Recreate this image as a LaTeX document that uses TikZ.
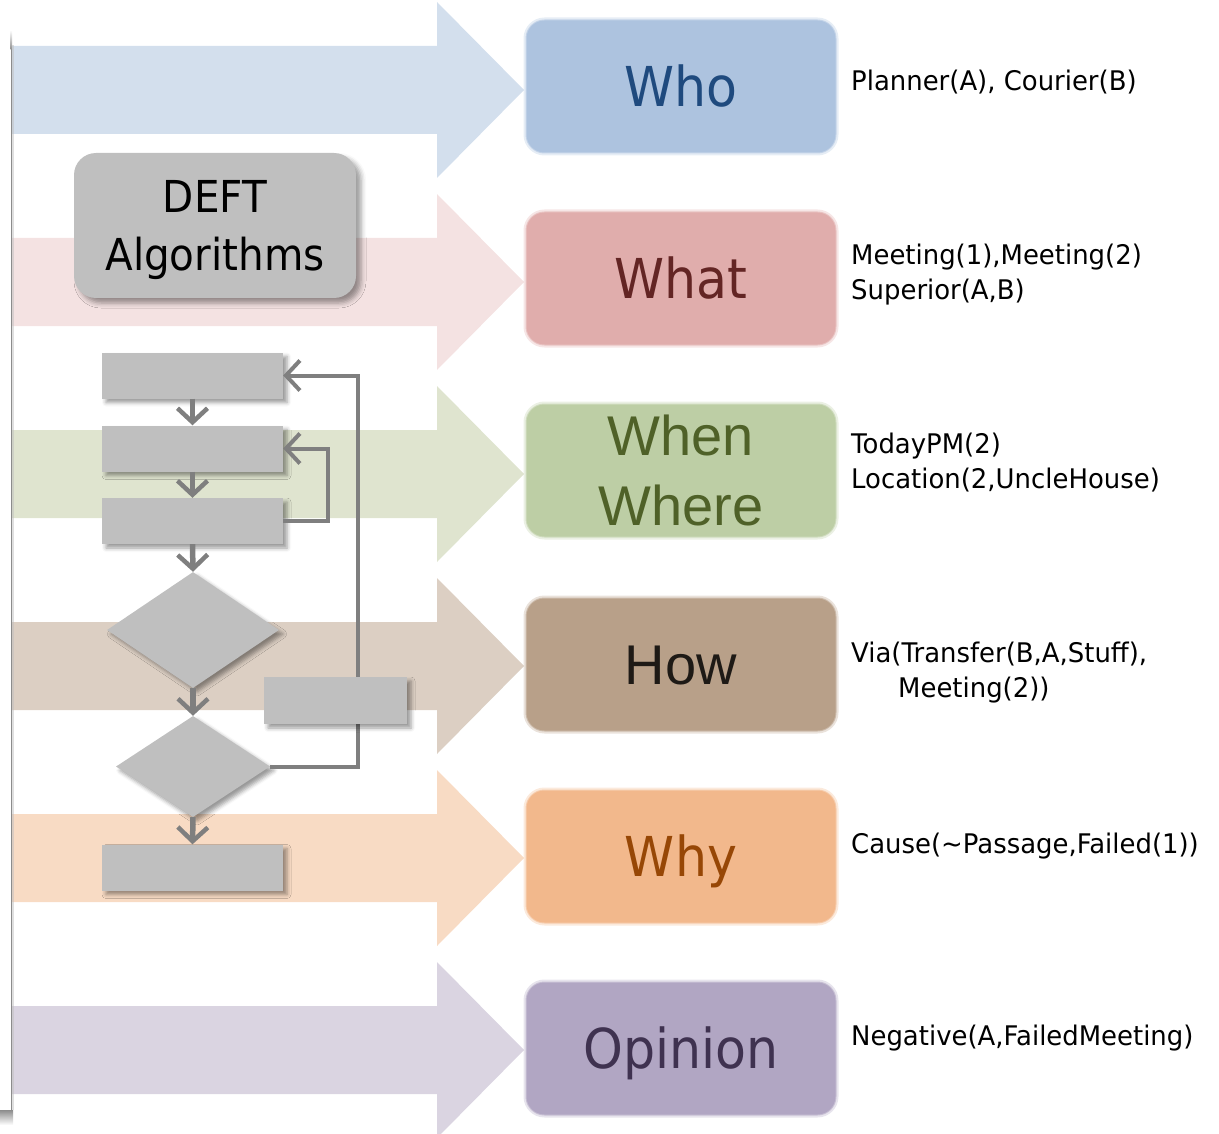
\documentclass[tikz,border=0pt]{standalone}
\usepackage{fontspec}
\setmainfont{DejaVu Sans}[FakeStretch=0.92]
\newfontfamily\rtfont{DejaVu Sans}[FakeStretch=0.96]
\newfontfamily\arialf{Liberation Sans}
\usetikzlibrary{shapes.geometric,arrows.meta,shadows.blur}
\definecolor{bWho}{HTML}{D3DFED}
\definecolor{bWhat}{HTML}{F4E2E2}
\definecolor{bWhen}{HTML}{DFE4CF}
\definecolor{bHow}{HTML}{DCCFC3}
\definecolor{bWhy}{HTML}{F8DBC4}
\definecolor{bOp}{HTML}{DAD4E1}
\definecolor{cWho}{HTML}{ADC3DF}
\definecolor{cWhat}{HTML}{E0ADAC}
\definecolor{cWhen}{HTML}{BDCEA5}
\definecolor{cHow}{HTML}{B8A089}
\definecolor{cWhy}{HTML}{F2B88C}
\definecolor{cOp}{HTML}{B1A6C3}
\definecolor{tWho}{HTML}{1F4A7E}
\definecolor{tWhat}{HTML}{632524}
\definecolor{tWhen}{HTML}{4F6128}
\definecolor{tHow}{HTML}{1E1A16}
\definecolor{tWhy}{HTML}{974706}
\definecolor{tOp}{HTML}{3F3250}
\definecolor{fGray}{HTML}{BFBFBF}
\definecolor{lGray}{HTML}{7F7F7F}
\begin{document}
\begin{tikzpicture}[x=1pt,y=-1pt,
  box/.style={rectangle, rounded corners=18pt, minimum width=309pt, minimum height=132pt,
    inner sep=0pt, fill=#1, draw=#1, line width=2pt, draw opacity=0.6,
    preaction={draw=#1, line width=6pt, draw opacity=0.3}},
  capt/.style={text height=40pt, text depth=0pt},
  big/.style={font=\fontsize{55}{66}\selectfont},
  rt/.style={anchor=base west, inner sep=0pt, font=\rtfont\fontsize{27}{35}\selectfont},
  fshadow/.style={blur shadow={shadow xshift=4pt, shadow yshift=-4pt, shadow blur radius=4pt}},
  fbox/.style={rectangle, fill=fGray, minimum width=181pt, minimum height=46pt, inner sep=0pt, fshadow},
  fdia/.style={diamond, fill=fGray, inner sep=0pt, fshadow},
  conn/.style={draw=lGray, line width=5.5pt, -{Straight Barb[length=14pt, width=30pt, line width=4.5pt]}},
  loopc/.style={draw=lGray, line width=4pt, -{Straight Barb[length=14pt, width=30pt, line width=4pt]}}
]
\useasboundingbox (0,0) rectangle (1219,1134);
% bands (arrows)
\foreach \c/\col in {90/bWho, 282/bWhat, 474/bWhen, 666/bHow, 858/bWhy, 1050/bOp}{
  \fill[\col] (11,\c-44) -- (437,\c-44) -- (437,\c-88) -- (524,\c) -- (437,\c+88) -- (437,\c+44) -- (11,\c+44) -- cycle;
}
% left page edge
\shade[top color=white, bottom color=black!45] (10.5,30) rectangle (12,50);
\fill[black!45] (10.5,50) rectangle (12,1110);
\fill[black!25, opacity=0.5] (12,45) rectangle (14,1110);
\shade[top color=black!45, bottom color=white] (0,1110) rectangle (13,1125);
% category boxes
\node[box=cWho, capt, big, text=tWho] (who) at (681,86.5) {Who};
\node[box=cWhat, capt, big, text=tWhat] (what) at (681,278.5) {What};
\node[box=cWhen, text=tWhen, align=center, text depth=0pt,
  font=\arialf\fontsize{56}{70}\selectfont] (when) at (681,470.5) {When\\Where};
\node[box=cHow, capt, text=tHow, font=\arialf\fontsize{56}{66}\selectfont] (how) at (681,664.5) {How};
\node[box=cWhy, capt, big, text=tWhy] (why) at (681,856.5) {Why};
\node[box=cOp, capt, big, text=tOp] (op) at (681,1048.5) {Opinion};
% right texts
\node[rt] (whoA) at (851,90.7) {Planner(A), Courier(B)};
\node[rt] (whatA) at (851,265) {Meeting(1),Meeting(2)};
\node[rt] (whatB) at (851,300) {Superior(A,B)};
\node[rt] (whenA) at (851,453) {TodayPM(2)};
\node[rt] (whenB) at (851,488) {Location(2,UncleHouse)};
\node[rt] (howA) at (851,662) {Via(Transfer(B,A,Stuff),};
\node[rt] (howB) at (898,697) {Meeting(2))};
\node[rt] (whyA) at (851,853) {Cause(\textasciitilde Passage,Failed(1))};
\node[rt] (opA) at (851,1045) {Negative(A,FailedMeeting)};
% DEFT box
\node[rectangle, rounded corners=22pt, fill=fGray, minimum width=282pt, minimum height=145pt,
  inner sep=0pt, align=center, text depth=0pt, font=\fontsize{44}{58}\selectfont,
  blur shadow={shadow xshift=5pt, shadow yshift=-5pt, shadow blur radius=5pt}]
  (deft) at (215,225.5) {DEFT\\Algorithms};
% flowchart
\node[fbox] (r1) at (192.5,375.5) {};
\node[fbox] (r2) at (192.5,448.5) {};
\node[fbox] (r3) at (192.5,521) {};
\node[fdia, minimum width=172pt, minimum height=116pt] (d1) at (193,630) {};
\node[fdia, minimum width=154pt, minimum height=101pt] (d2) at (193,766.5) {};
\node[fbox] (r4) at (192.5,867.5) {};
\draw[conn] (r1.south) -- (r2.north);
\draw[conn] (r2.south) -- (r3.north);
\draw[conn] (r3.south) -- (d1.north);
\draw[conn] (d1.south) -- (d2.north);
\draw[conn] (d2.south) -- (r4.north);
\draw[loopc] (r3.east) -- ++(45,0) |- (r2.east);
\draw[loopc] (d2.east) -- ++(88,0) |- (r1.east);
\node[fbox, minimum width=143pt, minimum height=47pt] (r5) at (335.5,700.5) {};
\end{tikzpicture}
\end{document}
